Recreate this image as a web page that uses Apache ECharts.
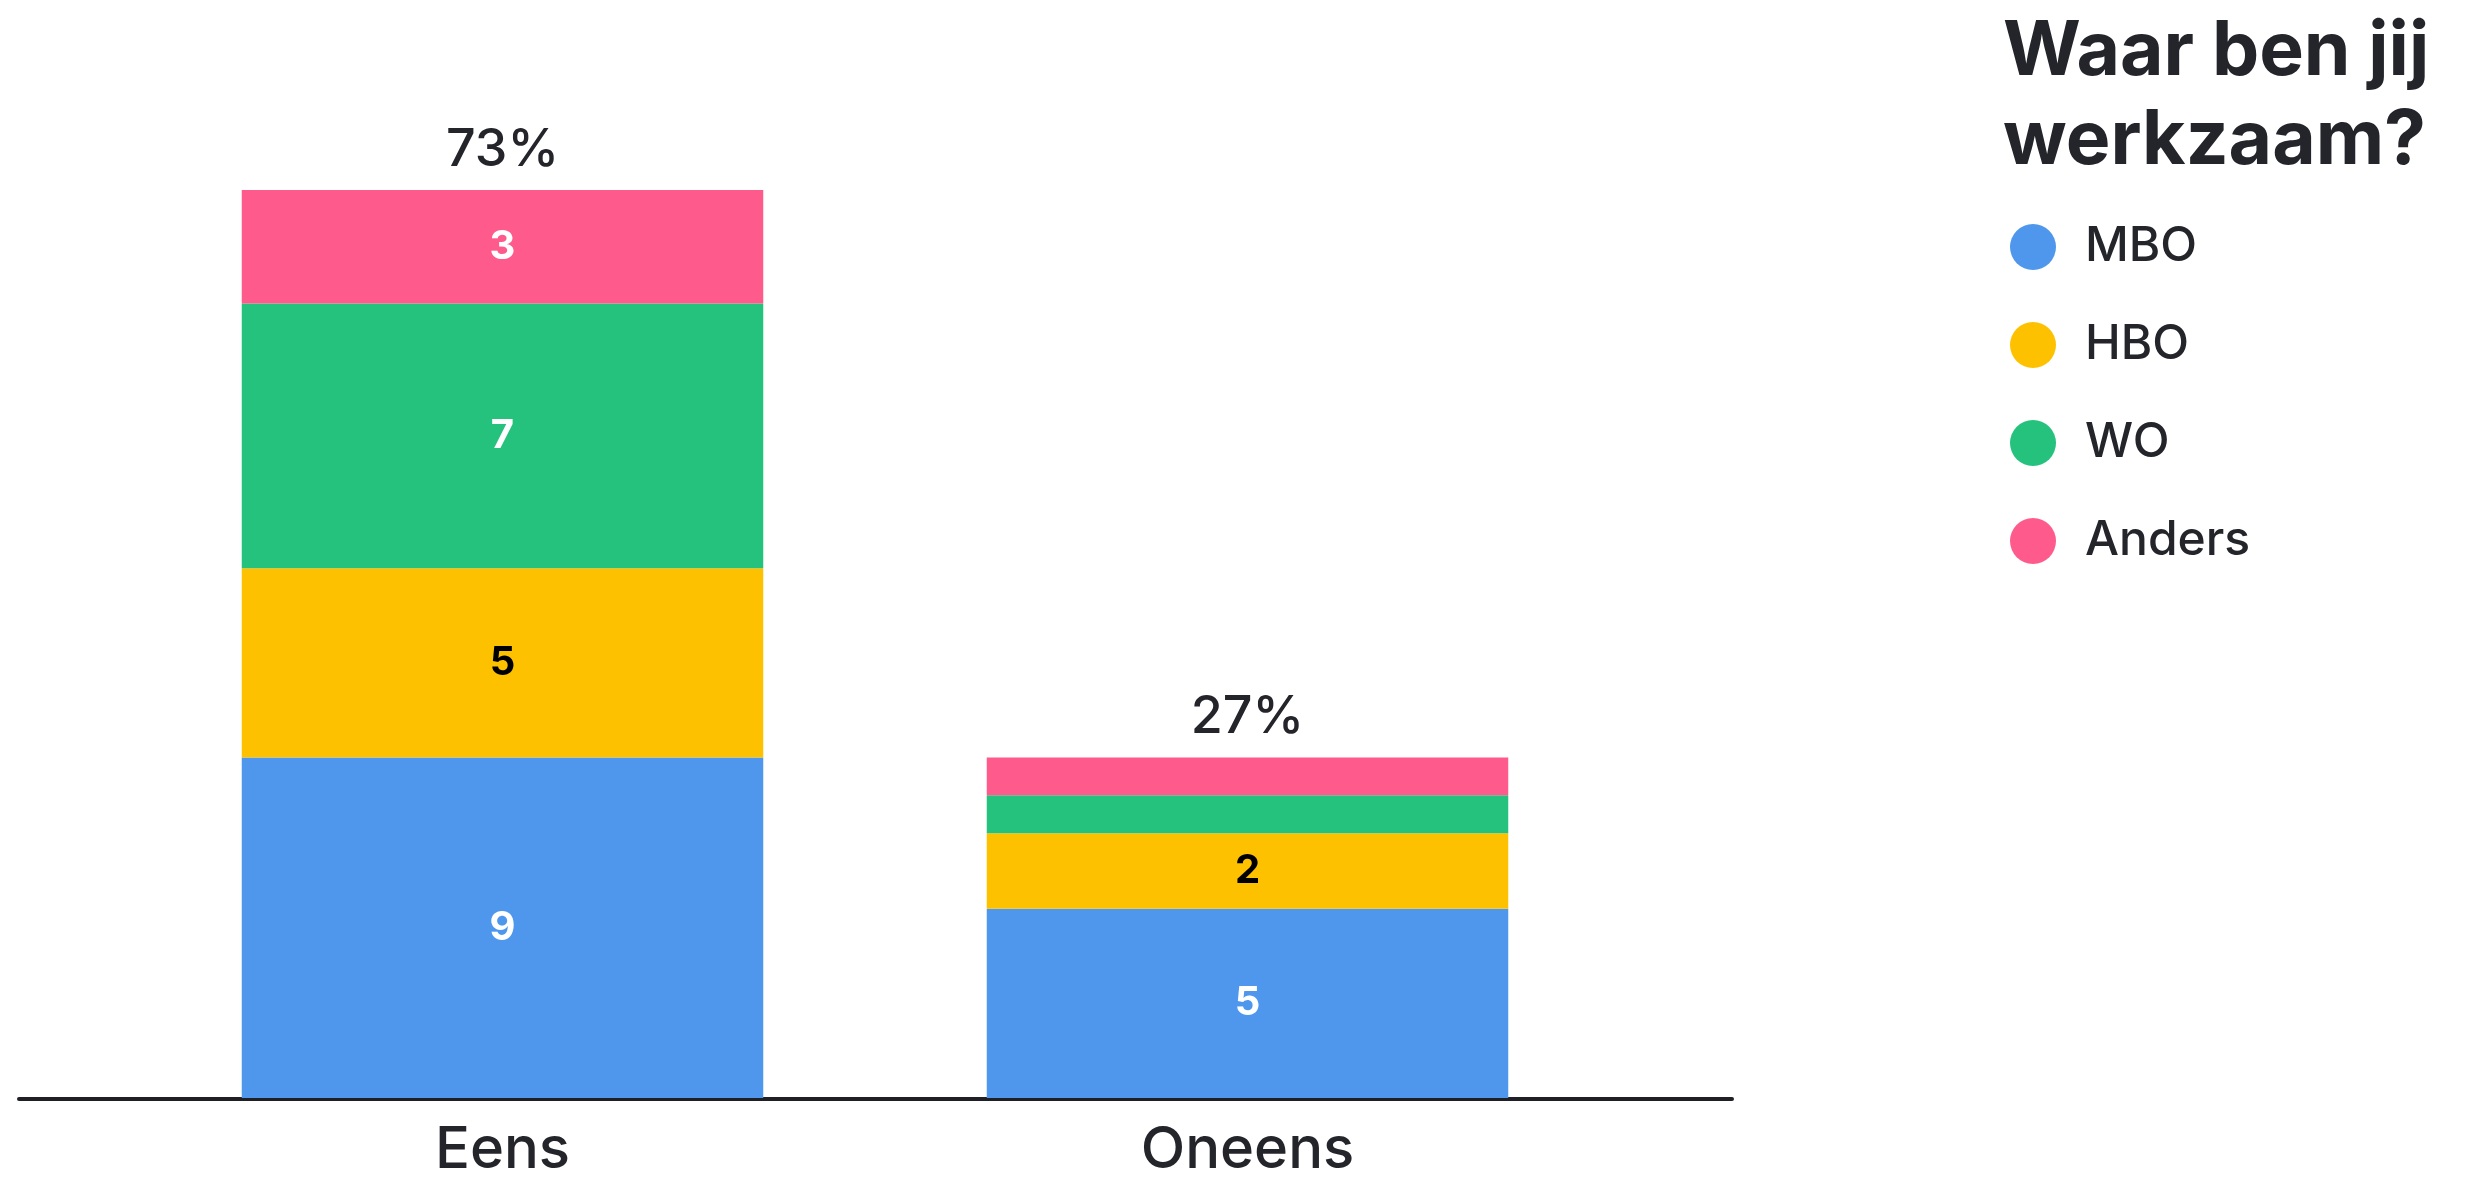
<!DOCTYPE html>
<html>
<head>
<meta charset="utf-8">
<script src="https://cdn.jsdelivr.net/npm/echarts@6/dist/echarts.min.js"></script>
<style>
  html, body { margin: 0; padding: 0; background: #fff; }
  #chart { width: 2469px; height: 1180px; }
</style>
</head>
<body>
<div id="chart"></div>
<script>
const categories = ['Eens', 'Oneens'];
const mbo = [9, 5];
const hbo = [5, 2];
const wo = [7, 1];
const anders = [3, 1];
const percentages = [73, 27];

const FONT = 'Inter';
const TEXT = '#24252b';

const insideLabel = color => ({
  show: true,
  position: 'inside',
  color: color,
  fontFamily: FONT,
  fontWeight: 'bold',
  fontSize: 40,
  formatter: p => (p.value >= 2 ? p.value : '')
});

const makeSeries = (name, data, color, labelColor) => ({
  name: name,
  type: 'bar',
  stack: 'a',
  barWidth: '70%',
  data: data,
  itemStyle: { color: color },
  label: insideLabel(labelColor)
});

const myChart = echarts.init(document.getElementById('chart'));
myChart.setOption({
  animation: false,
  backgroundColor: '#fff',
  title: {
    text: 'Waar ben jij\nwerkzaam?',
    left: 2003,
    top: 8,
    padding: 0,
    textStyle: {
      fontFamily: FONT,
      fontWeight: 'bold',
      fontSize: 75,
      lineHeight: 89,
      color: TEXT
    }
  },
  legend: {
    data: ['MBO', 'HBO', 'WO', 'Anders'],
    orient: 'vertical',
    left: 2010,
    top: 223,
    icon: 'circle',
    itemWidth: 46,
    itemHeight: 46,
    itemGap: 50,
    padding: 0,
    selectedMode: false,
    textStyle: {
      fontFamily: FONT,
      fontWeight: 500,
      fontSize: 48,
      color: TEXT,
      padding: [0, 0, 0, 24]
    }
  },
  grid: [
    { left: 130, right: 849, top: 190, bottom: 81 },
    { left: 19, right: 737, top: 1000, bottom: 81 }
  ],
  xAxis: [
    {
      type: 'category',
      gridIndex: 0,
      data: categories,
      axisLine: { show: false },
      axisTick: { show: false },
      axisLabel: {
        fontFamily: FONT,
        fontWeight: 500,
        fontSize: 58,
        color: TEXT,
        margin: 24
      }
    },
    {
      type: 'value',
      gridIndex: 1,
      min: 0,
      max: 1,
      axisLine: { show: true, lineStyle: { color: '#1f2026', width: 4 } },
      axisTick: { show: false },
      axisLabel: { show: false },
      splitLine: { show: false }
    }
  ],
  yAxis: [
    { type: 'value', gridIndex: 0, min: 0, max: 24, show: false },
    { type: 'value', gridIndex: 1, min: 0, max: 1, show: false }
  ],
  series: [
    makeSeries('MBO', mbo, '#4e97ed', '#fff'),
    makeSeries('HBO', hbo, '#fec100', '#000'),
    makeSeries('WO', wo, '#24c27c', '#fff'),
    makeSeries('Anders', anders, '#fe5b8c', '#fff'),
    {
      name: 'totaal',
      type: 'bar',
      stack: 'a',
      barWidth: '70%',
      data: [0, 0],
      itemStyle: { color: 'transparent' },
      label: {
        show: true,
        position: 'top',
        distance: 14,
        fontFamily: FONT,
        fontWeight: 500,
        fontSize: 52,
        color: TEXT,
        formatter: p => percentages[p.dataIndex] + '%'
      }
    }
  ]
});
window.addEventListener('resize', function () {
  myChart.resize();
});
</script>
</body>
</html>
